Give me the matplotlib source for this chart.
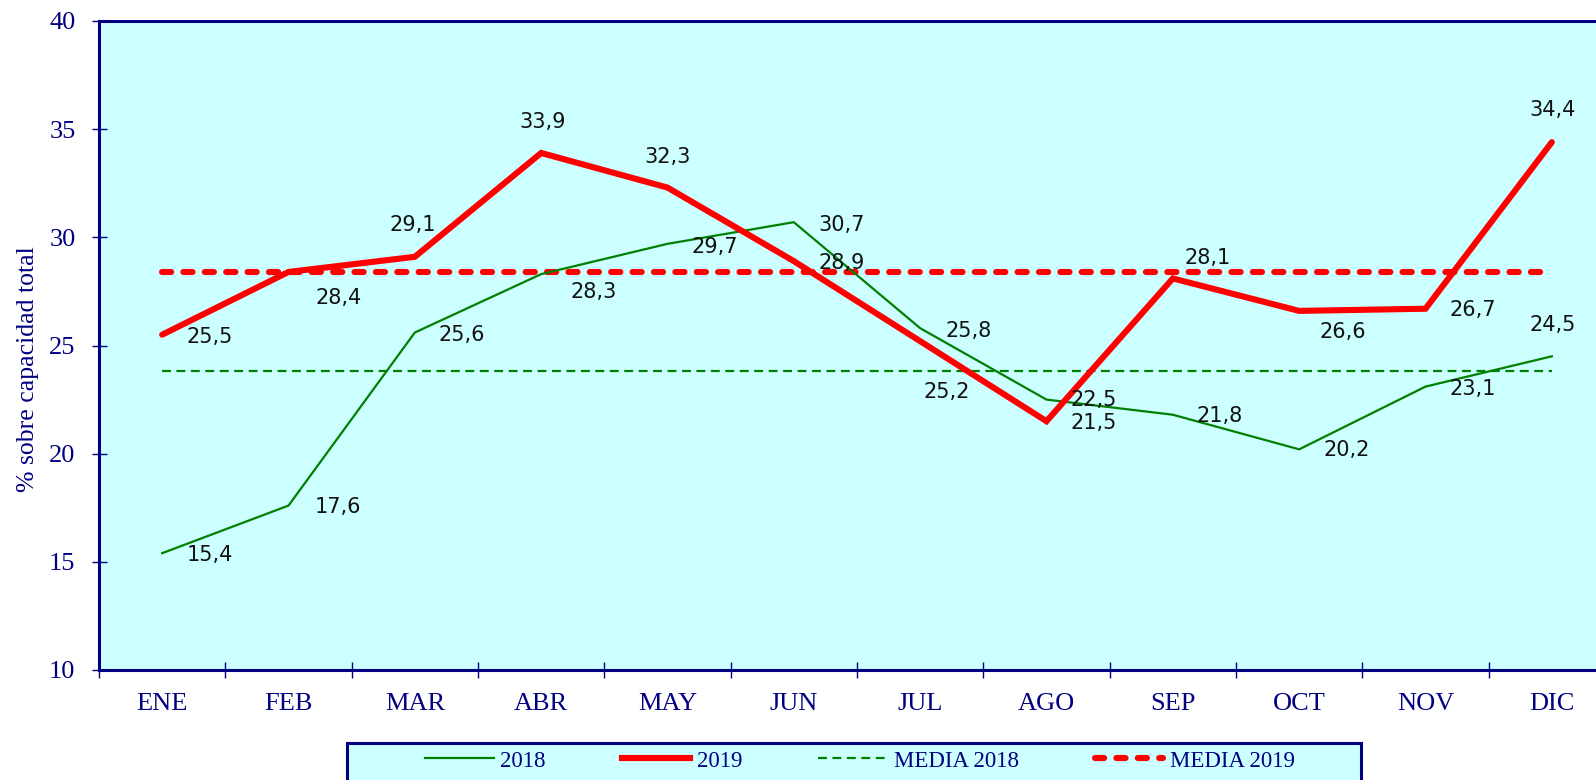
import matplotlib.pyplot as plt
from matplotlib.lines import Line2D
from matplotlib.patches import Rectangle

#datos
meses = ['ENE', 'FEB', 'MAR', 'ABR', 'MAY', 'JUN', 'JUL', 'AGO', 'SEP', 'OCT', 'NOV', 'DIC']
valores_2018 = [15.4, 17.6, 25.6, 28.3, 29.7, 30.7, 25.8, 22.5, 21.8, 20.2, 23.1, 24.5]
valores_2019 = [25.5, 28.4, 29.1, 33.9, 32.3, 28.9, 25.2, 21.5, 28.1, 26.6, 26.7, 34.4]
media_2018 = 23.8
media_2019 = 28.4

#posicion de las etiquetas respecto al punto (pixeles)
offs_2018 = [(48, -2), (49, -1), (47, -2), (52, -18), (47, -3), (48, -3),
             (48, -3), (47, 0), (47, -1), (48, -1), (47, -2), (1, 31)]
offs_2019 = [(48, -2), (50, -26), (-2, 32), (1, 31), (0, 31), (48, -2),
             (27, -51), (47, -2), (35, 20), (44, -21), (47, -1), (1, 32)]

azul = '#000080'
cian = '#CCFFFF'
verde = '#008000'
rojo = '#FF0000'

fig = plt.figure(figsize=(15.96, 7.8), dpi=100)
ax = fig.add_axes([99 / 1596, 1 - 670 / 780, 1516 / 1596, 649 / 780])
ax.set_facecolor(cian)

x = list(range(len(meses)))
ax.plot(x, valores_2018, color=verde, lw=1.6, zorder=3)
ax.plot(x, valores_2019, color=rojo, lw=4.4, solid_capstyle='round', solid_joinstyle='miter', zorder=4)
ax.plot(x, [media_2018] * len(x), color=verde, lw=1.6, dashes=(4, 2.5), zorder=2)
ax.plot(x, [media_2019] * len(x), color=rojo, lw=4.4, dashes=(1.5, 2.0), dash_capstyle='round', zorder=2)

#etiquetas de datos
for xi, v, o in zip(x, valores_2018, offs_2018):
    ax.annotate(f'{v:.1f}'.replace('.', ','), (xi, v), xytext=o, textcoords='offset pixels',
                ha='center', va='center', fontsize=15, family='DejaVu Sans', color='#111111', zorder=5)
for xi, v, o in zip(x, valores_2019, offs_2019):
    ax.annotate(f'{v:.1f}'.replace('.', ','), (xi, v), xytext=o, textcoords='offset pixels',
                ha='center', va='center', fontsize=15, family='DejaVu Sans', color='#111111', zorder=5)

#ejes
ax.set_xlim(-0.5, 11.5)
ax.set_ylim(10, 40)
ax.set_yticks(range(10, 41, 5))
ax.set_xticks(x)
ax.set_xticklabels(meses)
ax.set_xticks([i - 0.5 for i in range(13)], minor=True)
ax.tick_params(axis='x', which='major', length=0, pad=16.5, labelsize=19, labelcolor=azul)
ax.tick_params(axis='x', which='minor', direction='inout', length=11.5, width=1, color=azul)
ax.tick_params(axis='y', direction='inout', length=10.8, width=1, color=azul, pad=11.5,
               labelsize=19, labelcolor=azul)
for lab in ax.get_xticklabels() + ax.get_yticklabels():
    lab.set_family('Liberation Serif')
for s in ax.spines.values():
    s.set_color(azul)
    s.set_linewidth(2.2)

fig.text(28 / 1596, 1 - 369 / 780, '% sobre capacidad total', rotation=90, ha='center', va='center',
         fontsize=18.5, family='Liberation Serif', color=azul)

#leyenda
fig.patches.append(Rectangle((347 / 1596, 1 - 800 / 780), 1014 / 1596, 57 / 780, transform=fig.transFigure,
                             facecolor=cian, edgecolor=azul, lw=2.2, clip_on=False))
handles = [Line2D([], [], color=verde, lw=1.6),
           Line2D([], [], color=rojo, lw=4.4),
           Line2D([], [], color=verde, lw=1.6, dashes=(4, 2.5)),
           Line2D([], [], color=rojo, lw=4.4, dashes=(1.5, 2.0), dash_capstyle='round')]
leg = fig.legend(handles, ['2018', '2019', 'MEDIA 2018', 'MEDIA 2019'], ncol=4, loc='center',
                 bbox_to_anchor=(860 / 1596, 1 - 761 / 780), frameon=False, handlelength=3,
                 handletextpad=0.3, columnspacing=3.3, prop={'family': 'Liberation Serif', 'size': 16.5})
for t in leg.get_texts():
    t.set_color(azul)

plt.savefig('out.png', dpi=100)
